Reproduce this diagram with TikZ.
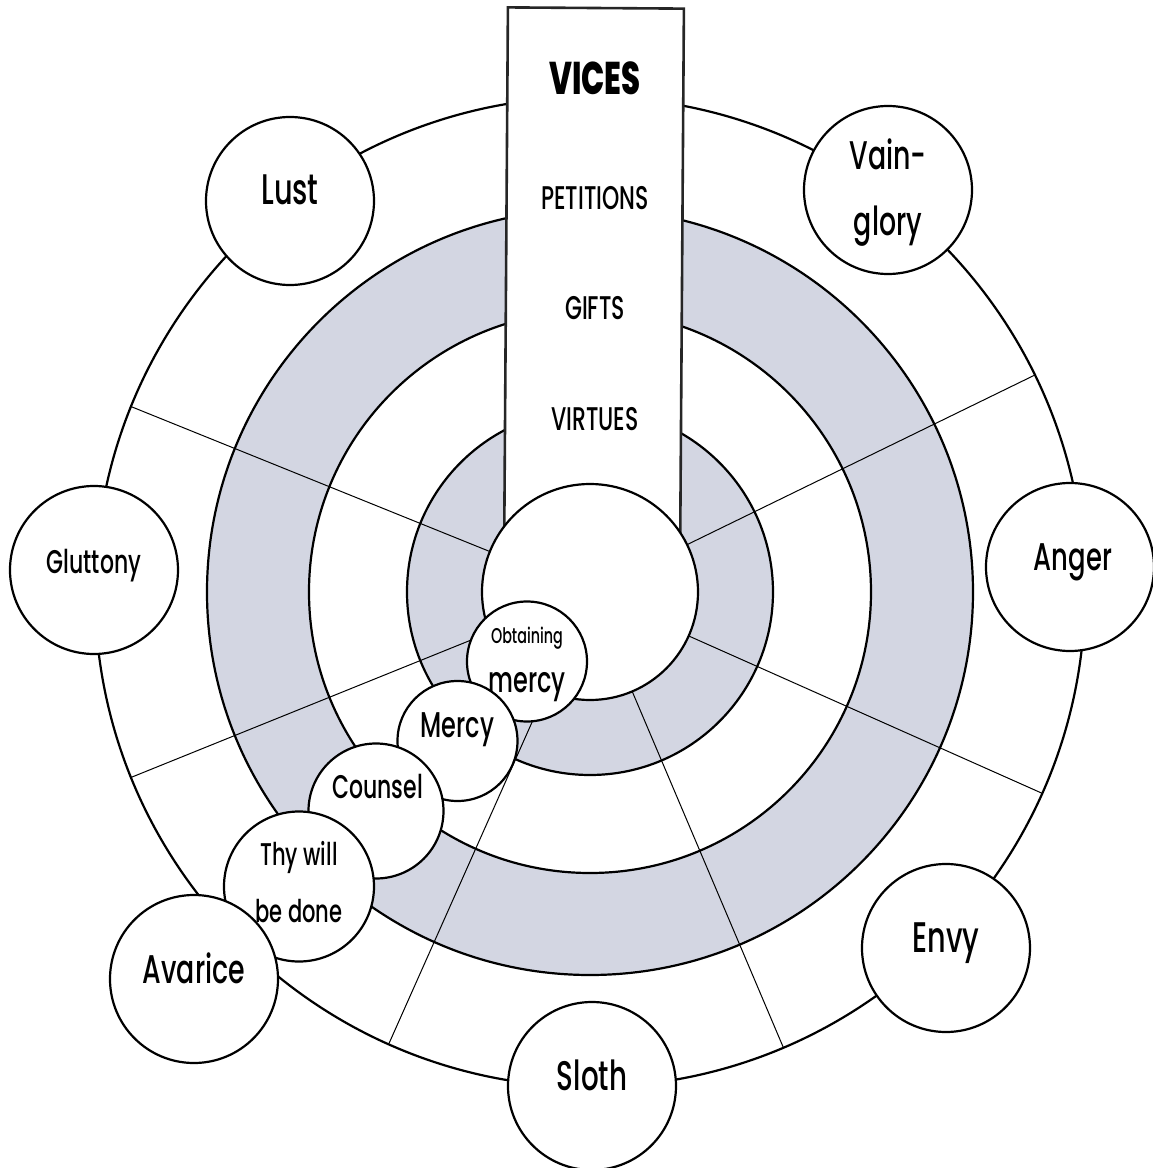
\documentclass[tikz,border=0pt]{standalone}
\usepackage{fontspec}
\setmainfont{Poppins}[UprightFont={* Medium}, BoldFont={* ExtraBold}, FakeStretch=0.67]
\usetikzlibrary{calc}
\definecolor{ringgrey}{RGB}{211,214,226}
\tikzset{ring/.style={draw, line width=1.1pt},
    spoke/.style={line width=0.5pt},
    disc/.style={circle, draw, fill=white, line width=1.1pt, inner sep=0pt},
    vice/.style={disc, minimum size=84pt},
    banner/.style={draw=black!85, fill=white, line width=1.3pt, inner sep=0pt},
    word/.style={anchor=base, inner sep=0pt, font=\fontsize{#1pt}{#1pt}\selectfont},
    }

\begin{document}
\begin{tikzpicture}[x=0.5pt, y=0.5pt]
\useasboundingbox (-590,-576) rectangle (562,592);
\coordinate (c) at (0,0);
% rings
\draw[ring, fill=white] (c) circle (247.5pt);
\draw[ring, fill=ringgrey] (c) circle (191.5pt);
\draw[ring, fill=white] (c) circle (140.5pt);
\draw[ring, fill=ringgrey] (c) circle (91.5pt);
\foreach \a in {26,-24,-67,-114,-158,158}
    \draw[spoke] (\a:108) -- (\a:495);
% the column of headings
\node[banner, minimum width=88pt, minimum height=276pt, rotate=-0.4] (banner) at (4,308) {};
\node[word=22.9] (vices) at (5,497) {\bfseries VICES};
\node[word=16.4] (petitions) at (5,382) {PETITIONS};
\node[word=16.4] (gifts) at (5,272) {GIFTS};
\node[word=16.4] (virtues) at (5,162) {VIRTUES};
\draw[ring, fill=white] (c) circle (54pt);
% vices
\node[vice] (lust) at (-300,391) {};
\node[word=21.4, yshift=-1.75pt] at (lust) {Lust};
\node[vice] (vainglory) at (298,402) {};
\node[word=20, yshift=10pt] at (vainglory) {Vain-};
\node[word=20, yshift=-23pt] at (vainglory) {glory};
\node[vice] (anger) at (480,25) {};
\node[word=19.3, xshift=1.5pt, yshift=-1.5pt] at (anger) {Anger};
\node[vice] (envy) at (356,-356) {};
\node[word=21.4, yshift=-2pt] at (envy) {Envy};
\node[vice] (sloth) at (2,-494) {};
\node[word=20.7, yshift=-2pt] at (sloth) {Sloth};
\node[vice] (gluttony) at (-496,22) {};
\node[word=16.4, yshift=-1.5pt] at (gluttony) {Gluttony};
% petition, gift, virtue, beatitude
\node[disc, minimum size=60pt] (obtaining) at (-63,-69.5) {};
\node[word=10.7, yshift=9.25pt] at (obtaining) {Obtaining};
\node[word=17.9, yshift=-15.25pt] at (obtaining) {mercy};
\node[disc, minimum size=60pt] (mercy) at (-132.5,-149) {};
\node[word=17.9, yshift=2pt] at (mercy) {Mercy};
\node[disc, minimum size=67.5pt] (counsel) at (-214,-219) {};
\node[word=16.4, xshift=0.75pt, yshift=6.5pt] at (counsel) {Counsel};
\node[disc, minimum size=75pt] (thywill) at (-291,-294.5) {};
\node[vice] (avarice) at (-396,-387) {};
\node[word=20, yshift=-2pt] at (avarice) {Avarice};
\node[word=15.7, yshift=10.75pt] at (thywill) {Thy will};
\node[word=15.7, yshift=-17.75pt] at (thywill) {be done};
\end{tikzpicture}
\end{document}
